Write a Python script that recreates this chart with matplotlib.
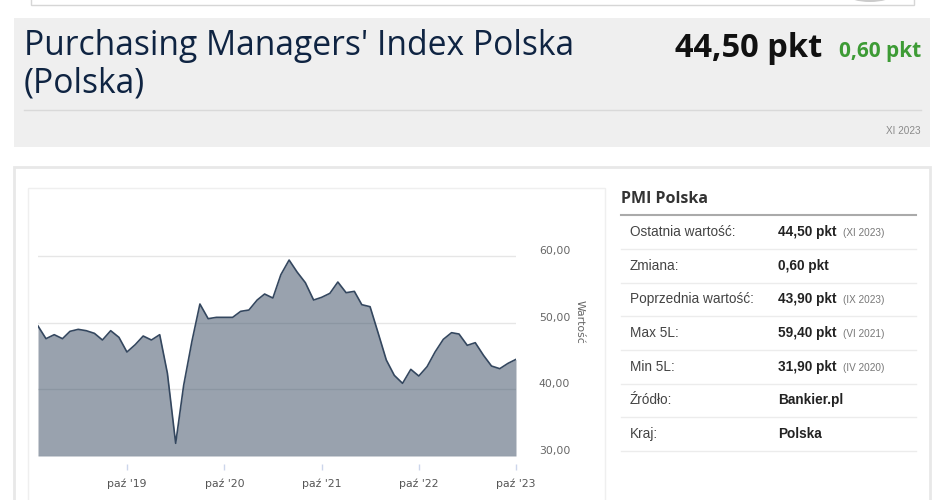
import matplotlib
matplotlib.use('Agg')
import matplotlib.pyplot as plt
import matplotlib.patches as mpatches
import pandas as pd

# PMI Polska, miesięcznie od XI 2018 do X 2023
months = pd.date_range('2018-11-01', periods=60, freq='MS').to_pydatetime()
pmi = [49.5, 47.6,
       48.2, 47.6, 48.7, 49.0, 48.8, 48.4, 47.4, 48.8, 47.8, 45.6, 46.7, 48.0,
       47.4, 48.2, 42.4, 31.9, 40.6, 47.2, 52.8, 50.6, 50.8, 50.8, 50.8, 51.7,
       51.9, 53.4, 54.3, 53.7, 57.2, 59.4, 57.6, 56.0, 53.4, 53.8, 54.4, 56.1,
       54.5, 54.7, 52.7, 52.4, 48.5, 44.4, 42.1, 40.9, 43.0, 42.0, 43.4, 45.6,
       47.5, 48.5, 48.3, 46.6, 47.0, 45.1, 43.5, 43.1, 43.9, 44.5]

tick_dates = pd.to_datetime(['2019-10-01', '2020-10-01', '2021-10-01',
                             '2022-10-01', '2023-10-01']).to_pydatetime()
tick_labels = ["paź '19", "paź '20", "paź '21", "paź '22", "paź '23"]
y_ticks = [30, 40, 50, 60]

title_1 = "Purchasing Managers' Index Polska"
title_2 = "(Polska)"
last_value = "44,50 pkt"
change = "0,60 pkt"
period = "XI 2023"

table_title = "PMI Polska"
row_labels = ['Ostatnia wartość:', 'Zmiana:', 'Poprzednia wartość:', 'Max 5L:',
              'Min 5L:', 'Źródło:', 'Kraj:']
row_values = ['44,50 pkt', '0,60 pkt', '43,90 pkt', '59,40 pkt', '31,90 pkt',
              'Bankier.pl', 'Polska']
row_notes = ['(XI 2023)', '', '(IX 2023)', '(VI 2021)', '(IV 2020)', '', '']

W, H = 948, 500
fig = plt.figure(figsize=(W / 100, H / 100), dpi=100)

# background layer in pixel coordinates (y down)
bg = fig.add_axes([0, 0, 1, 1])
bg.set_xlim(0, W)
bg.set_ylim(H, 0)
bg.set_axis_off()

# top box, cut off by the edge
bg.add_patch(mpatches.Rectangle((31, -10), 883, 15, fc='white', ec='#d6d6d6', lw=1))
bg.add_patch(mpatches.Ellipse((870, -5), 44, 14, fc='#b5b5b5', ec='none', alpha=0.7))

# header
bg.add_patch(mpatches.Rectangle((14, 18), 916, 129, fc='#efefef', ec='none'))
bg.text(24, 55, title_1, fontsize=24.2, family='Open Sans', color='#0f2442')
bg.text(24, 92, title_2, fontsize=24.2, family='Open Sans', color='#0f2442')
bg.text(822, 57, last_value, fontsize=23.5, family='Open Sans', weight='bold',
        color='#111111', ha='right')
bg.text(921, 57, change, fontsize=15, family='Open Sans', weight='bold',
        color='#3d9b35', ha='right')
bg.plot([24, 921], [110, 110], color='#d9d9d9', lw=1)
bg.text(921, 131, period, fontsize=7.2, family='Liberation Sans', color='#8a8a8a',
        ha='right', va='center')

# main panel
bg.add_patch(mpatches.Rectangle((14, 167), 916, 400, fc='white', ec='#e8e8e8', lw=2))
bg.add_patch(mpatches.Rectangle((28, 188), 577, 400, fc='white', ec='#efefef', lw=1))

# table
bg.text(621, 199, table_title, fontsize=11.5, family='Open Sans', weight='bold',
        color='#333333', va='center')
bg.plot([621, 916], [215, 215], color='#aaaaaa', lw=1.5)
for i in range(len(row_labels)):
    yc = 232 + 33.67 * i
    bg.text(630, yc, row_labels[i], fontsize=9.8, family='Liberation Sans',
            color='#444444', va='center')
    bg.text(778, yc, row_values[i], fontsize=9.8, family='Liberation Sans',
            weight='bold', color='#222222', va='center')
    if row_notes[i]:
        bg.text(843, yc + 1, row_notes[i], fontsize=7.2, family='Liberation Sans',
                color='#777777', va='center')
    bg.plot([621, 916], [yc + 17, yc + 17], color='#ececec', lw=1)

bg.text(580, 322, 'Wartość', rotation=270, fontsize=7.8, color='#666666',
        ha='center', va='center')

# chart
ax = fig.add_axes([38 / W, 1 - 456 / H, 478 / W, (456 - 192.7) / H])
ax.fill_between(months, pmi, 30, color='#34475f', alpha=0.5, lw=0)
ax.plot(months, pmi, color='#34475f', lw=1.2)
ax.set_xlim(months[0], months[-1])
ax.set_ylim(30, 69.5)
ax.set_yticks(y_ticks)
ax.set_yticklabels(['%d,00' % v for v in y_ticks])
ax.yaxis.tick_right()
ax.yaxis.grid(True, color='#e6e6e6', lw=1)
ax.set_axisbelow(True)
ax.set_xticks(tick_dates)
ax.set_xticklabels(tick_labels)
for s in ax.spines.values():
    s.set_visible(False)
ax.spines['bottom'].set_position(('outward', 6))
ax.tick_params(axis='y', length=0, pad=16.5, labelsize=7.8, labelcolor='#666666')
ax.tick_params(axis='x', length=4, width=1, color='#ccd6eb', pad=6,
               labelsize=7.8, labelcolor='#555555')
for t in ax.get_yticklabels():
    t.set_va('bottom')
ax.patch.set_alpha(0)

fig.savefig('out.png', dpi=100)
